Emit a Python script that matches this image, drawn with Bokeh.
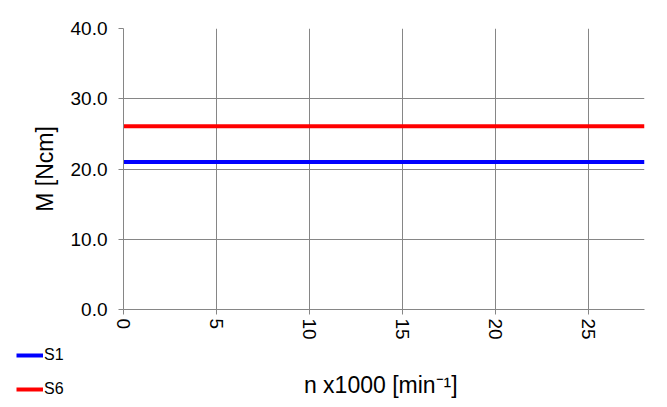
from bokeh.plotting import figure
from bokeh.layouts import column, row
from bokeh.models import Range1d, Legend, LegendItem, FixedTicker, Label
from bokeh.embed import file_html
from bokeh.resources import INLINE

# ---- data ----
x_vals = [0, 28]
s1 = [21.0, 21.0]
s6 = [26.1, 26.1]
series_names = ["S1", "S6"]
series_colors = ["#0000FF", "#FF0000"]
x_ticks = [0, 5, 10, 15, 20, 25]
y_ticks = [0, 10, 20, 30, 40]
y_tick_labels = {0: "0.0", 10: "10.0", 20: "20.0", 30: "30.0", 40: "40.0"}
x_label = "n x1000  [min\u207b\u00b9]"
y_label = "M [Ncm]"

FONT = "Liberation Sans"
GRID = "#868686"
X_MAX = 28
LEFT, RIGHT = 123, 23
W = 667

# ---- main plot ----
p = figure(width=W, height=345, output_backend="svg", toolbar_location=None,
           x_range=Range1d(0, X_MAX), y_range=Range1d(0, 40),
           min_border_left=LEFT, min_border_right=RIGHT, min_border_top=28, min_border_bottom=36)
p.outline_line_color = None

p.line(x_vals, s1, line_color=series_colors[0], line_width=4)
p.line(x_vals, s6, line_color=series_colors[1], line_width=4)

for ax in (p.xaxis[0], p.yaxis[0]):
    ax.axis_line_color = GRID
    ax.major_tick_line_color = GRID
    ax.minor_tick_line_color = None
    ax.major_tick_in = 0
    ax.major_tick_out = 5
    ax.major_label_text_font = FONT
    ax.major_label_text_font_size = "19px"
    ax.major_label_text_color = "black"
    ax.axis_label_text_font = FONT
    ax.axis_label_text_font_size = "23px"
    ax.axis_label_text_font_style = "normal"
    ax.axis_label_text_color = "black"

p.xaxis.ticker = FixedTicker(ticks=x_ticks)
p.yaxis.ticker = FixedTicker(ticks=y_ticks)
p.yaxis.major_label_overrides = dict(y_tick_labels)
p.xaxis.major_label_orientation = "vertical"
p.xaxis.major_label_standoff = 4
p.yaxis.major_label_standoff = 11
p.yaxis.axis_label = y_label
p.yaxis.axis_label_standoff = 10

p.xgrid.ticker = FixedTicker(ticks=x_ticks)
p.ygrid.ticker = FixedTicker(ticks=y_ticks)
p.grid.grid_line_color = GRID
p.grid.grid_line_width = 1

# ---- bottom strip: x-axis title and legend (frame spans from the left edge) ----
px_per_unit = (W - LEFT - RIGHT) / X_MAX
b = figure(width=W, height=62, output_backend="svg", toolbar_location=None,
           x_range=Range1d(-LEFT / px_per_unit, X_MAX), y_range=Range1d(0, 1),
           x_axis_location=None, y_axis_location=None,
           min_border_left=0, min_border_right=RIGHT, min_border_top=0, min_border_bottom=0)
b.outline_line_color = None
b.grid.visible = False

# legend keys (same series; outside this strip's y range, so only the keys show)
k1 = b.line(x_vals, s1, line_color=series_colors[0], line_width=4)
k6 = b.line(x_vals, s6, line_color=series_colors[1], line_width=4)

legend = Legend(items=[LegendItem(label=series_names[0], renderers=[k1]),
                       LegendItem(label=series_names[1], renderers=[k6])],
                location=(16, 9), orientation="vertical",
                label_text_font=FONT, label_text_font_size="16px", label_text_color="black",
                glyph_width=27, glyph_height=18, label_height=18,
                spacing=16, padding=0, margin=0, label_standoff=1,
                border_line_color=None, background_fill_alpha=0)
b.add_layout(legend, "center")

b.add_layout(Label(x=X_MAX / 2, y=0.355, text=x_label, text_align="center",
                   text_baseline="alphabetic", text_font=FONT,
                   text_font_size="23px", text_color="black"))

layout = column(p, row(b, spacing=0), spacing=0)
open("out.html", "w").write(file_html(layout, INLINE))
